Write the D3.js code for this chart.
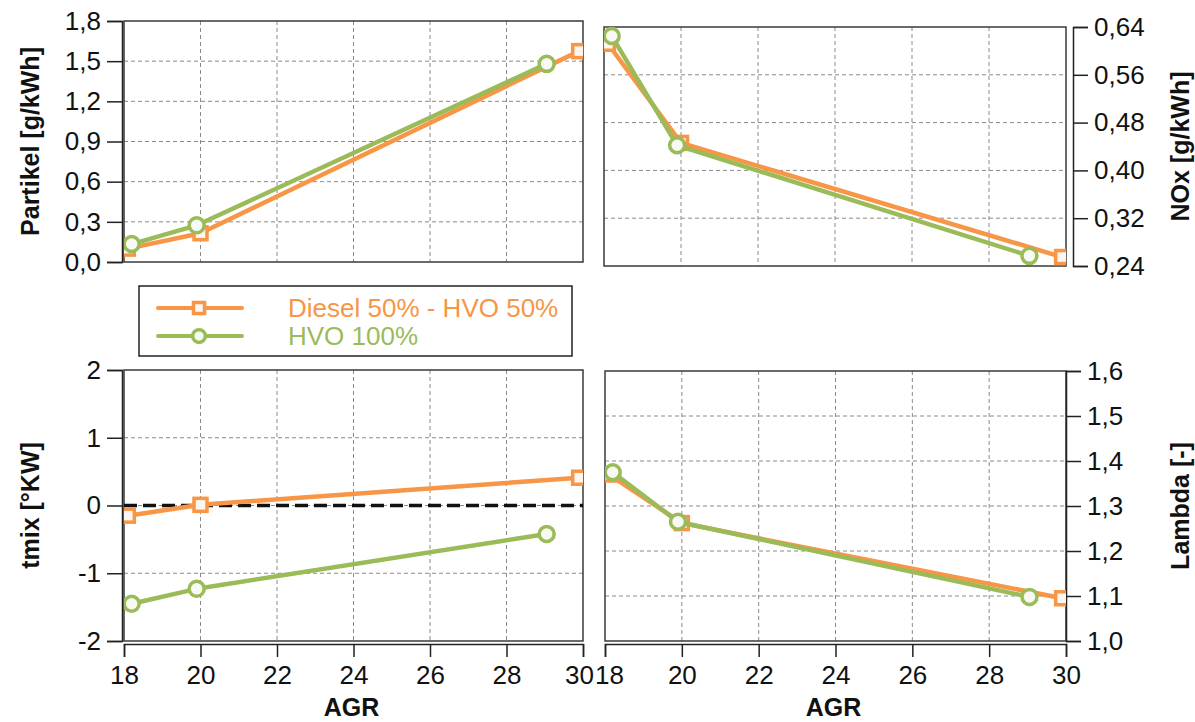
<!DOCTYPE html>
<html>
<head>
<meta charset="utf-8">
<script src="https://cdn.jsdelivr.net/npm/d3@7"></script>
<style>
  html, body { margin: 0; padding: 0; background: #fff; }
  svg { display: block; font-family: "Liberation Sans", Arial, sans-serif; }
</style>
</head>
<body>
<svg id="chart" width="1195" height="722"></svg>
<script>
// AGR sweep, two fuels
const agrTicks = [18, 20, 22, 24, 26, 28, 30];
const agrDiesel = [18.1, 20.0, 29.9];
const agrHvo = [18.2, 19.9, 29.05];

const partikelDiesel = [0.10, 0.215, 1.575];
const partikelHvo = [0.134, 0.274, 1.48];
const partikelTicks = [0, 0.3, 0.6, 0.9, 1.2, 1.5, 1.8];

const noxDiesel = [0.612, 0.446, 0.255];
const noxHvo = [0.625, 0.442, 0.257];
const noxTicks = [0.24, 0.32, 0.40, 0.48, 0.56, 0.64];

const tmixDiesel = [-0.15, 0.01, 0.41];
const tmixHvo = [-1.45, -1.23, -0.42];
const tmixTicks = [-2, -1, 0, 1, 2];

const lambdaDiesel = [1.37, 1.262, 1.095];
const lambdaHvo = [1.375, 1.265, 1.098];
const lambdaTicks = [1.0, 1.1, 1.2, 1.3, 1.4, 1.5, 1.6];

const seriesNames = ["Diesel 50% - HVO 50%", "HVO 100%"];
const ORANGE = "#F79646";
const GREEN = "#9BBB59";
const TICK_FONT = 26;
const TITLE_FONT = 25;

const svg = d3.select("#chart");
const comma = (digits) => (v) => d3.format("." + digits + "f")(v).replace(".", ",").replace("−", "-");

let clipId = 0;
function panel(opt) {
  const { x0, x1, y0, y1 } = opt;
  const x = d3.scaleLinear().domain([18, 30]).range([x0, x1]);
  const y = d3.scaleLinear().domain(d3.extent(opt.ticks)).range([y1, y0]);
  const g = svg.append("g");

  // grid
  g.append("g").selectAll("line.v")
    .data(agrTicks.filter(t => t > 18 && t < 30))
    .join("line")
    .attr("x1", d => x(d)).attr("x2", d => x(d))
    .attr("y1", y0).attr("y2", y1)
    .attr("stroke", "#8a8a8a").attr("stroke-width", 1).attr("stroke-dasharray", "4,3");
  g.append("g").selectAll("line.h")
    .data(opt.ticks.slice(1, -1))
    .join("line")
    .attr("x1", x0).attr("x2", x1)
    .attr("y1", d => y(d)).attr("y2", d => y(d))
    .attr("stroke", "#8a8a8a").attr("stroke-width", 1).attr("stroke-dasharray", "4,3");

  // frame
  g.append("rect")
    .attr("x", x0).attr("y", y0).attr("width", x1 - x0).attr("height", y1 - y0)
    .attr("fill", "none").attr("stroke", "#3a3a3a").attr("stroke-width", 1.5);

  // y axis
  const yAxis = (opt.side === "left" ? d3.axisLeft(y) : d3.axisRight(y))
    .tickValues(opt.ticks).tickSize(15).tickPadding(6).tickFormat(opt.fmt);
  const axX = opt.side === "left" ? x0 - 2 : x1 + opt.rightOffset;
  const ya = g.append("g").attr("transform", `translate(${axX},0)`).call(yAxis);
  ya.select(".domain").attr("stroke", "#222").attr("stroke-width", 1.5);
  ya.selectAll(".tick line").attr("stroke", "#222").attr("stroke-width", 1.5);
  ya.selectAll(".tick text").attr("font-size", TICK_FONT).attr("fill", "#111")
    .attr("font-family", "Liberation Sans, Arial, sans-serif");

  // y title
  const tx = opt.side === "left" ? 30 : 1180;
  g.append("text")
    .attr("transform", `translate(${tx},${(y0 + y1) / 2}) rotate(-90)`)
    .attr("text-anchor", "middle").attr("dominant-baseline", "central")
    .attr("font-size", TITLE_FONT).attr("font-weight", "bold").attr("fill", "#111")
    .text(opt.title);

  // x axis
  if (opt.xAxis) {
    const xa = g.append("g").attr("transform", `translate(0,${y1 + 3})`)
      .call(d3.axisBottom(x).tickValues(agrTicks).tickSize(13).tickPadding(9).tickFormat(d3.format("d")));
    xa.select(".domain").attr("stroke", "#222").attr("stroke-width", 1.5);
    xa.selectAll(".tick line").attr("stroke", "#222").attr("stroke-width", 1.5);
    xa.selectAll(".tick text").attr("font-size", TICK_FONT).attr("fill", "#111")
      .attr("font-family", "Liberation Sans, Arial, sans-serif");
    // the two panels meet at 30 | 18: nudge the outer labels apart
    xa.selectAll(".tick text")
      .filter(d => (opt.side === "left" && d === 30) || (opt.side === "right" && d === 18))
      .attr("dx", opt.side === "left" ? -4 : 4);
    g.append("text")
      .attr("x", (x0 + x1) / 2 - 2).attr("y", y1 + 75)
      .attr("text-anchor", "middle")
      .attr("font-size", TITLE_FONT).attr("font-weight", "bold").attr("fill", "#111")
      .text("AGR");
  }

  // plot content, clipped to the frame
  const id = "clip" + (clipId++);
  svg.append("clipPath").attr("id", id).append("rect")
    .attr("x", x0).attr("y", y0).attr("width", x1 - x0).attr("height", y1 - y0);
  const plot = g.append("g").attr("clip-path", `url(#${id})`);

  if (opt.zeroLine) {
    plot.append("line")
      .attr("x1", x0).attr("x2", x1).attr("y1", y(0)).attr("y2", y(0))
      .attr("stroke", "#111").attr("stroke-width", 3.4).attr("stroke-dasharray", "13,6");
  }

  const line = d3.line().x(d => x(d[0])).y(d => y(d[1]));
  const sets = [
    { xs: agrDiesel, ys: opt.diesel, color: ORANGE, marker: "square" },
    { xs: agrHvo, ys: opt.hvo, color: GREEN, marker: "circle" }
  ];
  sets.forEach(s => {
    const pts = s.xs.map((v, i) => [v, s.ys[i]]);
    plot.append("path").datum(pts).attr("d", line)
      .attr("fill", "none").attr("stroke", s.color).attr("stroke-width", 4.5)
      .attr("stroke-linejoin", "round");
    drawMarkers(plot, pts.map(p => [x(p[0]), y(p[1])]), s, 1);
  });
}

function drawMarkers(sel, pts, s, k) {
  if (s.marker === "square") {
    sel.append("g").selectAll("rect").data(pts).join("rect")
      .attr("x", d => d[0] - 6.5 * k).attr("y", d => d[1] - 6.5 * k)
      .attr("width", 13 * k).attr("height", 13 * k)
      .attr("fill", "#fdf6f0").attr("stroke", s.color).attr("stroke-width", 3.5);
  } else {
    sel.append("g").selectAll("circle").data(pts).join("circle")
      .attr("cx", d => d[0]).attr("cy", d => d[1]).attr("r", 7.5 * k)
      .attr("fill", "#f7faf2").attr("stroke", s.color).attr("stroke-width", 3.5);
  }
}

// Partikel, NOx, tmix, Lambda
panel({ x0: 124, x1: 583, y0: 21, y1: 262, ticks: partikelTicks, fmt: comma(1),
  side: "left", title: "Partikel [g/kWh]", diesel: partikelDiesel, hvo: partikelHvo, xAxis: false });
panel({ x0: 604, x1: 1066, y0: 27, y1: 266, ticks: noxTicks, fmt: comma(2),
  side: "right", rightOffset: 7, title: "NOx [g/kWh]", diesel: noxDiesel, hvo: noxHvo, xAxis: false });
panel({ x0: 124, x1: 583, y0: 370, y1: 641, ticks: tmixTicks, fmt: comma(0),
  side: "left", title: "tmix [°KW]", diesel: tmixDiesel, hvo: tmixHvo, xAxis: true, zeroLine: true });
panel({ x0: 605, x1: 1066, y0: 371, y1: 641, ticks: lambdaTicks, fmt: comma(1),
  side: "right", rightOffset: 0, title: "Lambda [-]", diesel: lambdaDiesel, hvo: lambdaHvo, xAxis: true });

// legend
const lg = svg.append("g");
lg.append("rect").attr("x", 139).attr("y", 286).attr("width", 433).attr("height", 70)
  .attr("fill", "#fff").attr("stroke", "#222").attr("stroke-width", 1.5);
[{ color: ORANGE, marker: "square" }, { color: GREEN, marker: "circle" }].forEach((s, i) => {
  const yy = 308 + i * 28;
  lg.append("line").attr("x1", 158).attr("x2", 242).attr("y1", yy).attr("y2", yy)
    .attr("stroke", s.color).attr("stroke-width", 4).attr("stroke-linecap", "round");
  drawMarkers(lg, [[199, yy]], s, 0.85);
  lg.append("text").attr("x", 288).attr("y", yy + 9)
    .attr("font-size", TICK_FONT).attr("fill", s.color).text(seriesNames[i]);
});
</script>
</body>
</html>
